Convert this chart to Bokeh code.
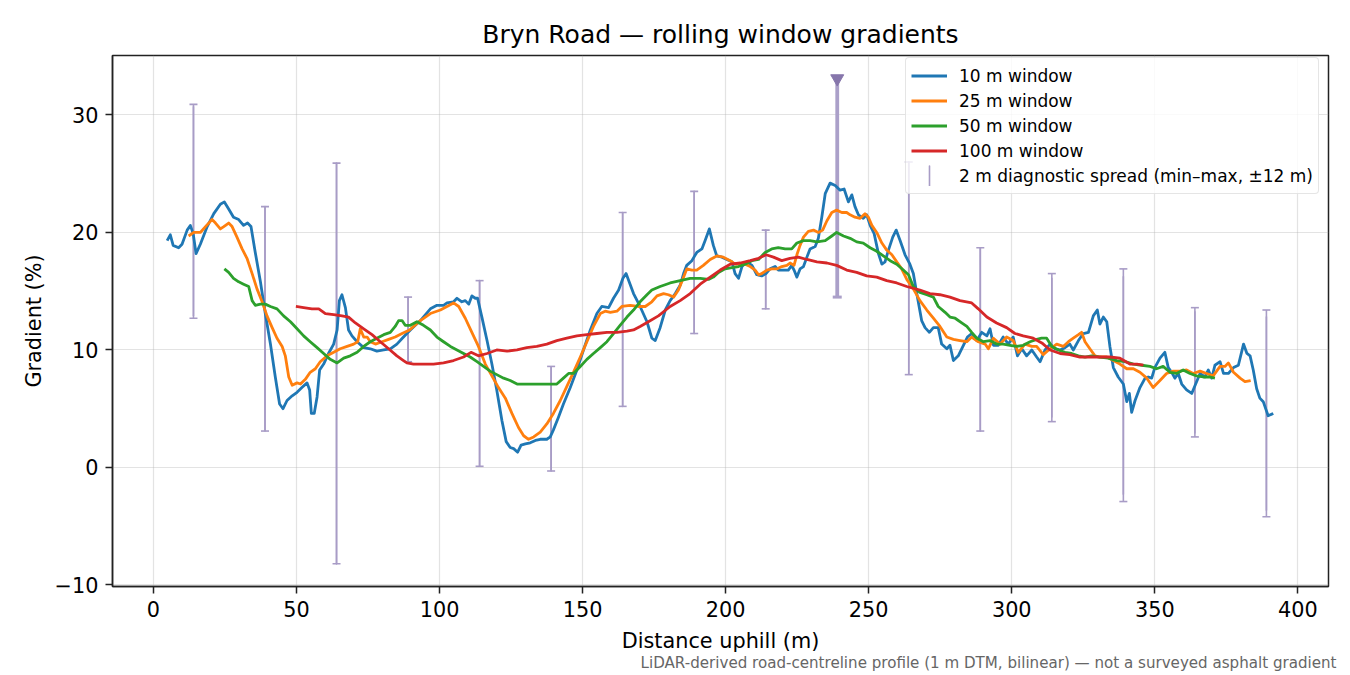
import numpy as np
from bokeh.plotting import figure
from bokeh.models import ColumnDataSource, Whisker, TeeHead, Legend, LegendItem, Title
from bokeh.embed import file_html
from bokeh.resources import INLINE

# values (distance in m, gradient in %)

w10_x = [4.8, 5.9, 6.9, 8.8, 10.0, 11.8, 12.9, 13.9, 14.9, 16.4,
         18.8, 21.1, 23.4, 24.8, 26.3, 28.0, 29.8, 31.5, 32.9, 34.1,
         35.6, 37.4, 39.1, 40.9, 42.6, 44.1, 45.3, 46.7, 48.5, 50.2,
         51.9, 53.7, 54.6, 55.2, 56.2, 57.2, 58.1, 59.5, 61.2, 63.0,
         64.2, 65.0, 65.9, 67.1, 68.2, 69.4, 71.2, 73.5, 75.8, 78.1,
         80.5, 82.8, 85.1, 87.4, 89.8, 93.3, 96.8, 99.1, 101.4, 102.6,
         104.9, 106.1, 107.8, 109.0, 110.2, 111.3, 112.5, 113.3, 114.8, 116.6,
         118.3, 120.0, 121.8, 123.3, 124.7, 125.9, 127.3, 128.5, 130.0, 131.7,
         133.5, 135.2, 137.5, 138.7, 139.8, 141.6, 143.3, 145.7, 148.0, 150.3,
         152.7, 155.0, 156.7, 159.1, 160.8, 162.6, 164.1, 165.2, 166.6, 167.8,
         170.1, 172.5, 174.2, 175.4, 177.1, 178.9, 180.6, 182.4, 184.1, 185.3,
         186.4, 188.2, 189.9, 191.7, 192.8, 194.3, 195.7, 196.9, 198.7, 200.4,
         202.2, 203.3, 204.5, 205.7, 207.4, 209.2, 210.9, 212.6, 214.1, 215.5,
         217.3, 218.4, 220.2, 221.9, 223.1, 223.9, 224.9, 226.0, 227.2, 228.4,
         229.5, 231.3, 232.4, 233.6, 234.8, 236.5, 238.3, 240.0, 241.4, 242.9,
         244.1, 245.2, 246.4, 248.1, 249.3, 250.5, 251.9, 253.4, 254.6, 255.7,
         256.9, 258.4, 259.6, 261.0, 262.7, 264.4, 265.6, 266.8, 268.5, 269.7,
         271.2, 272.6, 274.3, 275.5, 277.3, 278.4, 279.6, 281.3, 283.1, 284.5,
         286.0, 287.8, 289.5, 291.3, 292.4, 293.6, 295.3, 297.0, 298.8, 300.5,
         302.0, 303.5, 305.2, 307.0, 308.7, 309.9, 311.6, 313.4, 315.1, 316.9,
         318.6, 320.3, 321.5, 323.3, 325.0, 326.8, 328.5, 329.9, 330.8, 332.0,
         333.2, 334.3, 335.5, 337.2, 339.0, 340.2, 341.1, 341.9, 343.1, 344.8,
         346.6, 347.7, 348.9, 350.0, 351.8, 353.5, 354.7, 355.9, 357.0, 358.2,
         359.4, 361.1, 362.9, 364.6, 365.8, 367.5, 368.7, 369.9, 371.0, 372.8,
         374.0, 375.7, 377.5, 379.2, 381.0, 382.2, 383.3, 384.4, 385.6, 386.7,
         387.9, 389.6, 391.4]
w10_y = [19.3, 19.8, 18.9, 18.7, 19.0, 20.2, 20.6, 19.9, 18.2, 19.0,
         20.5, 21.6, 22.4, 22.6, 22.0, 21.3, 21.1, 20.6, 20.8, 20.5,
         18.3, 15.8, 13.1, 10.5, 7.7, 5.4, 5.0, 5.7, 6.1, 6.4,
         6.8, 7.2, 6.6, 4.6, 4.6, 6.0, 8.3, 8.8, 9.7, 10.5,
         11.7, 14.2, 14.7, 13.6, 11.7, 11.2, 10.7, 10.2, 10.1, 9.9,
         10.0, 10.1, 10.5, 11.1, 11.7, 12.5, 13.5, 13.8, 13.8, 14.0,
         14.1, 14.4, 14.1, 14.2, 13.9, 14.6, 14.4, 14.4, 12.8, 10.8,
         8.8, 6.6, 4.0, 2.2, 1.7, 1.6, 1.3, 1.9, 2.0, 2.1,
         2.3, 2.4, 2.4, 2.6, 3.2, 4.3, 5.4, 6.8, 8.3, 10.0,
         11.7, 13.1, 13.7, 13.6, 14.4, 15.1, 16.1, 16.5, 15.6, 14.8,
         13.7, 12.4, 11.0, 10.8, 11.9, 13.4, 14.2, 14.8, 15.5, 16.5,
         17.2, 17.6, 18.3, 18.6, 19.3, 20.3, 18.9, 18.0, 17.9, 17.7,
         17.5, 16.5, 16.1, 17.1, 17.5, 17.2, 16.4, 16.3, 16.5, 16.9,
         17.1, 16.8, 16.8, 16.8, 17.2, 16.8, 16.2, 16.9, 17.1, 17.9,
         18.6, 18.8, 19.5, 21.3, 23.3, 24.2, 24.0, 23.6, 23.7, 22.6,
         23.2, 22.2, 21.5, 21.2, 21.5, 20.6, 19.9, 18.2, 17.3, 17.5,
         18.5, 19.6, 20.2, 19.3, 18.1, 17.3, 16.5, 14.8, 12.5, 11.9,
         11.5, 11.9, 11.9, 10.5, 10.1, 10.4, 9.1, 9.5, 10.4, 11.1,
         11.4, 10.8, 11.5, 11.2, 11.8, 10.4, 10.4, 11.1, 10.5, 11.1,
         9.5, 10.1, 9.5, 10.0, 9.4, 9.0, 10.0, 10.5, 10.1, 10.0,
         10.2, 10.5, 10.0, 10.8, 11.4, 11.5, 12.9, 13.4, 12.2, 12.8,
         12.4, 10.3, 8.5, 7.7, 7.1, 5.6, 6.3, 4.7, 5.7, 6.8,
         7.6, 7.7, 7.6, 8.5, 9.3, 9.8, 8.5, 8.1, 7.6, 8.0,
         7.1, 6.6, 6.3, 7.3, 8.0, 7.7, 8.3, 7.6, 8.7, 9.0,
         8.0, 8.0, 8.5, 8.7, 10.5, 9.7, 9.5, 8.3, 6.7, 5.9,
         5.6, 4.4, 4.6]

w25_x = [12.3, 14.1, 16.4, 18.2, 20.5, 21.7, 23.4, 24.6, 26.3, 27.5,
         29.2, 31.0, 32.7, 34.5, 36.2, 38.0, 39.7, 41.5, 43.2, 45.0,
         46.1, 47.3, 48.5, 50.2, 51.4, 53.1, 54.8, 56.6, 58.3, 60.7,
         63.0, 65.3, 67.7, 70.0, 71.4, 72.3, 73.5, 74.7, 75.8, 77.6,
         79.9, 82.2, 84.5, 86.9, 89.5, 93.3, 96.8, 100.3, 102.6, 104.9,
         106.7, 109.0, 111.3, 113.6, 116.0, 118.3, 120.6, 123.0, 125.3, 127.6,
         129.4, 131.1, 132.9, 135.2, 137.5, 139.8, 142.2, 144.5, 146.8, 149.2,
         151.5, 153.8, 156.2, 157.9, 159.7, 162.0, 163.7, 166.6, 169.5, 171.9,
         174.2, 176.0, 178.3, 180.0, 181.8, 183.5, 185.3, 186.4, 188.2, 189.9,
         192.2, 194.6, 196.9, 199.2, 201.6, 203.3, 205.1, 206.8, 208.6, 210.3,
         211.5, 212.6, 214.4, 216.1, 217.9, 219.6, 221.4, 222.5, 223.9, 224.9,
         226.0, 227.2, 228.9, 230.7, 232.4, 233.9, 235.4, 237.1, 238.8, 240.6,
         242.3, 243.5, 245.2, 247.0, 248.7, 249.9, 251.1, 252.8, 254.6, 256.3,
         258.1, 259.8, 261.3, 263.3, 265.6, 267.9, 270.3, 272.6, 274.9, 277.3,
         279.6, 281.9, 284.3, 286.0, 288.3, 290.7, 291.8, 293.6, 295.9, 298.2,
         300.5, 302.3, 304.6, 307.0, 308.7, 311.0, 313.4, 315.7, 318.0, 319.8,
         321.5, 323.3, 324.4, 325.6, 327.3, 329.1, 330.8, 333.2, 335.5, 337.8,
         340.2, 342.5, 344.8, 347.2, 349.4, 351.8, 354.1, 356.4, 358.8, 361.1,
         363.4, 365.8, 368.1, 370.4, 372.8, 374.5, 375.7, 377.5, 379.8, 381.5,
         383.5]
w25_y = [19.7, 20.0, 20.0, 20.5, 21.1, 20.8, 20.3, 20.5, 20.8, 20.5,
         19.6, 18.6, 17.8, 16.5, 15.2, 14.1, 12.9, 11.9, 11.0, 10.3,
         9.5, 7.7, 7.0, 7.2, 7.1, 7.5, 8.1, 8.4, 9.0, 9.5,
         9.8, 10.1, 10.3, 10.5, 10.7, 11.8, 11.1, 11.1, 10.7, 10.5,
         10.7, 10.9, 11.1, 11.4, 11.7, 12.5, 13.1, 13.4, 13.7, 14.0,
         13.7, 12.7, 11.5, 10.3, 8.8, 7.8, 6.8, 5.9, 4.6, 3.4,
         2.7, 2.4, 2.6, 3.0, 3.7, 4.6, 5.7, 6.9, 8.1, 9.4,
         10.7, 12.0, 13.1, 13.3, 13.2, 13.3, 13.7, 13.8, 13.7, 13.7,
         14.1, 14.6, 14.8, 14.7, 14.5, 15.1, 16.2, 16.9, 16.8, 16.8,
         17.2, 17.7, 18.0, 17.9, 17.6, 17.3, 17.3, 17.3, 17.1, 16.8,
         16.4, 16.5, 16.8, 16.9, 16.9, 17.1, 17.2, 17.4, 17.2, 18.1,
         18.9, 19.6, 20.1, 20.2, 20.0, 20.2, 21.0, 21.7, 21.9, 21.7,
         21.7, 21.5, 21.3, 21.2, 21.6, 21.3, 20.6, 20.0, 19.1, 18.5,
         18.1, 17.5, 17.0, 16.0, 15.2, 14.2, 13.4, 12.7, 12.0, 11.1,
         10.9, 10.8, 10.7, 11.1, 10.7, 10.5, 10.1, 11.0, 10.5, 11.1,
         10.8, 9.8, 10.5, 10.3, 10.3, 9.6, 10.1, 10.5, 10.3, 10.7,
         11.0, 11.3, 11.5, 10.7, 10.1, 9.5, 9.4, 9.4, 9.1, 8.8,
         8.4, 8.4, 8.1, 7.6, 6.8, 7.4, 8.0, 8.2, 8.2, 8.3,
         8.0, 8.2, 8.0, 7.8, 8.6, 8.6, 8.9, 8.1, 7.6, 7.3,
         7.4]

w50_x = [24.8, 26.3, 28.0, 29.8, 31.5, 33.3, 34.5, 35.6, 37.4, 39.1,
         40.9, 43.2, 45.5, 47.9, 50.2, 52.5, 54.8, 57.2, 59.5, 61.8,
         64.2, 66.5, 68.8, 71.2, 73.5, 75.8, 78.1, 80.5, 82.8, 84.5,
         85.7, 86.9, 88.0, 89.8, 92.1, 94.4, 96.8, 99.1, 101.4, 103.8,
         106.1, 108.4, 110.7, 113.1, 115.4, 117.7, 120.0, 122.4, 124.7, 127.1,
         129.4, 131.7, 134.0, 136.4, 138.7, 141.0, 143.3, 145.1, 146.8, 149.2,
         151.5, 153.8, 156.2, 158.5, 160.8, 163.1, 165.5, 167.8, 170.1, 172.5,
         174.2, 177.1, 180.6, 184.1, 187.6, 191.1, 194.0, 195.7, 197.5, 199.8,
         202.2, 204.5, 206.8, 209.2, 211.5, 213.8, 216.1, 218.4, 220.8, 223.1,
         224.9, 227.2, 229.5, 231.9, 234.8, 237.1, 238.8, 241.2, 243.5, 245.8,
         248.1, 250.5, 252.8, 255.1, 257.5, 259.8, 262.1, 263.9, 265.6, 267.9,
         270.3, 272.6, 274.3, 276.7, 278.4, 280.2, 282.5, 284.3, 286.0, 287.8,
         290.1, 292.4, 294.7, 297.0, 299.4, 301.7, 304.0, 306.4, 308.7, 310.4,
         312.2, 314.0, 316.3, 318.6, 320.9, 323.3, 325.6, 327.9, 330.8, 333.7,
         336.7, 339.6, 342.5, 345.4, 348.3, 350.6, 352.9, 355.3, 357.6, 359.9,
         362.3, 364.6, 366.9, 369.3, 371.0]
w50_y = [16.9, 16.6, 16.1, 15.8, 15.6, 15.4, 14.2, 13.8, 13.9, 13.9,
         13.7, 13.5, 12.9, 12.4, 11.8, 11.2, 10.7, 10.2, 9.7, 9.2,
         8.9, 9.3, 9.5, 9.8, 10.3, 10.7, 11.0, 11.3, 11.5, 12.0,
         12.5, 12.5, 12.1, 12.1, 12.4, 12.1, 11.7, 11.1, 10.7, 10.3,
         10.0, 9.7, 9.4, 9.0, 8.6, 8.2, 7.9, 7.6, 7.4, 7.1,
         7.1, 7.1, 7.1, 7.1, 7.1, 7.1, 7.6, 8.0, 8.0, 8.6,
         9.2, 9.7, 10.2, 10.7, 11.4, 12.1, 12.8, 13.4, 14.1, 14.7,
         15.1, 15.4, 15.7, 15.9, 16.1, 16.1, 16.0, 16.2, 16.6, 16.9,
         17.0, 17.1, 17.3, 17.6, 17.7, 18.3, 18.6, 18.7, 18.6, 18.6,
         19.1, 19.3, 19.3, 19.2, 19.3, 19.7, 20.0, 19.7, 19.5, 19.2,
         19.1, 18.7, 18.4, 18.0, 17.6, 17.3, 16.8, 16.4, 15.4, 14.9,
         14.7, 14.5, 13.7, 13.2, 12.8, 12.7, 12.3, 12.0, 11.5, 11.0,
         10.7, 10.8, 10.5, 10.5, 10.4, 10.3, 10.4, 10.7, 10.9, 11.0,
         11.0, 10.3, 10.0, 9.8, 9.7, 9.5, 9.4, 9.5, 9.4, 9.3,
         9.1, 9.0, 8.8, 8.7, 8.6, 8.4, 8.6, 8.1, 8.0, 8.3,
         8.0, 7.8, 7.7, 7.7, 7.6]

w100_x = [49.8, 52.5, 55.4, 57.8, 60.1, 63.0, 65.9, 68.2, 70.6, 73.5,
          76.4, 79.3, 82.2, 85.1, 87.4, 88.6, 90.9, 94.4, 97.9, 101.4,
          104.9, 108.4, 111.0, 113.6, 116.6, 120.0, 123.6, 127.1, 130.5, 134.0,
          137.5, 141.0, 144.5, 148.0, 151.5, 155.0, 158.5, 162.0, 165.5, 167.8,
          170.1, 173.0, 176.5, 180.6, 184.1, 187.6, 191.1, 194.6, 198.1, 201.6,
          205.1, 208.6, 211.5, 214.1, 216.7, 219.6, 222.5, 225.4, 228.4, 231.9,
          235.4, 238.8, 242.3, 245.8, 249.3, 252.8, 256.3, 259.8, 263.3, 267.9,
          271.4, 274.9, 278.4, 281.9, 286.0, 288.3, 291.3, 294.7, 298.2, 301.1,
          304.0, 307.5, 310.5, 313.4, 316.9, 320.3, 323.8, 327.3, 330.8, 334.3,
          337.8, 341.3, 343.7, 346.0]
w100_y = [13.7, 13.6, 13.5, 13.5, 13.1, 13.0, 12.9, 12.8, 12.3, 11.8,
          11.3, 10.7, 10.1, 9.5, 9.1, 8.9, 8.8, 8.8, 8.8, 8.9,
          9.1, 9.4, 9.8, 9.5, 9.7, 10.0, 9.9, 10.0, 10.2, 10.3,
          10.5, 10.8, 11.0, 11.2, 11.3, 11.4, 11.5, 11.5, 11.6, 11.7,
          12.0, 12.4, 12.9, 13.7, 14.2, 14.8, 15.6, 16.2, 16.8, 17.3,
          17.4, 17.6, 17.8, 18.1, 17.9, 17.6, 17.8, 17.9, 17.7, 17.5,
          17.4, 17.2, 16.8, 16.6, 16.3, 16.2, 15.9, 15.7, 15.4, 15.1,
          14.8, 14.7, 14.5, 14.2, 14.0, 13.5, 12.8, 12.3, 11.9, 11.4,
          11.2, 11.0, 10.6, 10.0, 9.7, 9.6, 9.4, 9.4, 9.4, 9.4,
          9.3, 8.8, 8.8, 8.7]

# 2 m diagnostic spread, min and max within +-12 m of each station
spread_x = [14, 39, 64, 89, 114, 139, 164, 189, 214, 239, 264, 289, 314, 339, 364, 389]
spread_lo = [12.7, 3.1, -8.2, 9.0, 0.1, -0.3, 5.2, 11.4, 13.5, 14.5, 7.9, 3.1, 3.9, -2.9, 2.6, -4.2]
spread_hi = [30.9, 22.2, 25.9, 14.5, 15.9, 8.6, 21.7, 23.5, 20.2, 33.1, 26.0, 18.7, 16.5, 16.9, 13.6, 13.4]
flagged = 9  # steepest station, drawn heavier with a marker on top

x_ticks = [0, 50, 100, 150, 200, 250, 300, 350, 400]
y_ticks = [-10, 0, 10, 20, 30]

FONT = "DejaVu Sans"
COLORS = ["#1f77b4", "#ff7f0e", "#2ca02c", "#d62728"]
SPREAD = "#a89cc6"
HOT = "#aba0c9"
INK = "#000000"

p = figure(frame_width=1216, frame_height=531,
           x_range=(-14.3, 410.7), y_range=(-10.13, 35.06),
           min_border_left=112, min_border_right=22,
           min_border_top=55, min_border_bottom=89,
           output_backend="svg", toolbar_location=None)

p.title.text = "Bryn Road \u2014 rolling window gradients"
p.title.align = "center"
p.title.text_font = FONT
p.title.text_font_size = "25px"
p.title.text_font_style = "normal"
p.title.text_color = INK
p.title.standoff = 13

p.add_layout(Title(text="LiDAR-derived road-centreline profile (1 m DTM, bilinear) "
                        "\u2014 not a surveyed asphalt gradient",
                   align="right", text_font=FONT, text_font_size="15.1px",
                   text_font_style="normal", text_color="#666666",
                   offset=-8, standoff=-8), "below")

p.xaxis.ticker = x_ticks
p.yaxis.ticker = y_ticks
p.yaxis.major_label_overrides = {-10: "\u221210"}
p.xaxis.axis_label = "Distance uphill (m)"
p.yaxis.axis_label = "Gradient (%)"
for ax in (p.xaxis, p.yaxis):
    ax.axis_label_text_font = FONT
    ax.axis_label_text_font_size = "20.8px"
    ax.axis_label_text_font_style = "normal"
    ax.axis_label_text_color = INK
    ax.major_label_text_font = FONT
    ax.major_label_text_font_size = "20.8px"
    ax.major_label_text_color = INK
    ax.major_label_standoff = 7
    ax.major_tick_out = 7
    ax.major_tick_in = 0
    ax.minor_tick_out = 0
    ax.minor_tick_in = 0
    ax.major_tick_line_width = 1.5
    ax.axis_line_width = 1.5
    ax.axis_line_color = "#222222"
    ax.major_tick_line_color = "#222222"
p.xaxis.axis_label_standoff = 9
p.yaxis.axis_label_standoff = 6

p.outline_line_color = "#222222"
p.outline_line_width = 1.5
p.grid.grid_line_color = "#b0b0b0"
p.grid.grid_line_alpha = 0.35
p.grid.grid_line_width = 1.2

# error bars sit under the lines
keep = [i for i in range(len(spread_x)) if i != flagged]
bars = ColumnDataSource(dict(x=[spread_x[i] for i in keep],
                             lo=[spread_lo[i] for i in keep],
                             hi=[spread_hi[i] for i in keep]))
bars.data["mid"] = [(a + b) / 2 for a, b in zip(bars.data["lo"], bars.data["hi"])]
bars.data["span"] = [b - a for a, b in zip(bars.data["lo"], bars.data["hi"])]
p.add_layout(Whisker(source=bars, base="x", lower="lo", upper="hi", dimension="height",
                     line_color=SPREAD, line_width=1.6, level="underlay",
                     upper_head=TeeHead(size=8, line_color=SPREAD, line_width=1.6),
                     lower_head=TeeHead(size=8, line_color=SPREAD, line_width=1.6)))
# a hair-thin ellipse over each bar: same stroke, and it gives the legend a vertical icon
spread_r = p.ellipse(x="x", y="mid", width=0.02, height="span", source=bars,
                     fill_color=None, line_color=SPREAD, line_width=1.6)

hot = ColumnDataSource(dict(x=[spread_x[flagged]], lo=[spread_lo[flagged]],
                            hi=[spread_hi[flagged]]))
p.add_layout(Whisker(source=hot, base="x", lower="lo", upper="hi", dimension="height",
                     line_color=HOT, line_width=3.8, level="underlay",
                     upper_head=None,
                     lower_head=TeeHead(size=9, line_color=HOT, line_width=3)))
p.scatter(x="x", y="hi", source=hot, marker="inverted_triangle", size=13,
          fill_color="#8676ab", line_color="#8676ab")

series = [(w10_x, w10_y, "10 m window"), (w25_x, w25_y, "25 m window"),
          (w50_x, w50_y, "50 m window"), (w100_x, w100_y, "100 m window")]
items = []
for (xs, ys, label), col in zip(series, COLORS):
    r = p.line(xs, ys, line_color=col, line_width=2.8, line_join="round")
    items.append(LegendItem(label=label, renderers=[r]))
items.append(LegendItem(label="2 m diagnostic spread (min\u2013max, \u00b112 m)",
                        renderers=[spread_r]))

# placed by its lower-left corner, in px from the frame's lower-left corner
legend = Legend(items=items, location=(793, 392), margin=0, padding=5, spacing=0,
                glyph_width=36, glyph_height=25, label_height=25, label_standoff=12,
                label_text_font=FONT, label_text_font_size="17px",
                label_text_color=INK,
                border_line_color="#cccccc", border_line_width=1.2,
                background_fill_alpha=0.8)
try:
    legend.border_radius = 4
except Exception:
    pass
p.add_layout(legend)

open("out.html", "w").write(file_html(p, INLINE, "Bryn Road"))
